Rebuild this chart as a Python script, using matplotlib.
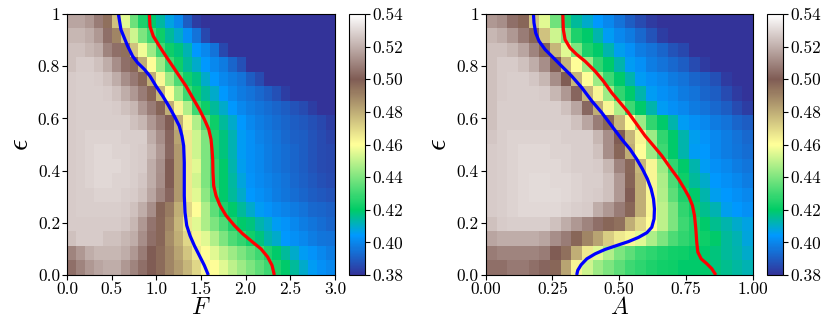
import numpy as np
import matplotlib
matplotlib.use("Agg")
import matplotlib.pyplot as plt

plt.rcParams["font.family"] = "serif"
plt.rcParams["font.serif"] = ["cmr10"]
plt.rcParams["mathtext.fontset"] = "cm"
plt.rcParams["axes.formatter.use_mathtext"] = True

# --- heatmap values (x1000), rows from eps=1 (top) down to eps=0 ---
grid_F = [
    [518, 518, 515, 508, 495, 475, 455, 437, 425, 420, 414, 407, 400, 390, 383, 375, 375, 375, 375, 375, 375, 375, 375, 375, 375, 375, 375, 375, 375, 375],
    [522, 522, 520, 515, 505, 490, 475, 452, 440, 430, 422, 415, 410, 402, 395, 385, 375, 375, 375, 375, 375, 375, 375, 375, 375, 375, 375, 375, 375, 375],
    [525, 525, 522, 520, 510, 505, 495, 475, 458, 445, 430, 422, 418, 412, 404, 400, 395, 385, 375, 375, 375, 375, 375, 375, 375, 375, 375, 375, 375, 375],
    [525, 527, 527, 525, 520, 512, 505, 497, 480, 460, 445, 430, 422, 415, 410, 404, 400, 397, 392, 387, 378, 375, 375, 375, 375, 375, 375, 375, 375, 375],
    [527, 528, 528, 527, 525, 520, 512, 507, 497, 480, 462, 445, 432, 423, 417, 410, 404, 400, 398, 395, 390, 386, 380, 375, 375, 375, 375, 375, 375, 375],
    [527, 528, 528, 528, 527, 525, 520, 515, 508, 497, 478, 460, 445, 430, 422, 415, 410, 404, 400, 397, 395, 393, 390, 387, 383, 378, 376, 375, 375, 375],
    [527, 528, 528, 528, 528, 527, 525, 522, 515, 508, 498, 480, 462, 448, 430, 422, 415, 410, 404, 400, 398, 396, 394, 392, 390, 388, 386, 383, 380, 378],
    [527, 528, 528, 528, 528, 528, 528, 525, 522, 515, 508, 500, 480, 462, 448, 432, 422, 415, 410, 404, 400, 398, 396, 394, 392, 390, 389, 387, 385, 383],
    [527, 528, 529, 529, 529, 529, 528, 528, 528, 520, 512, 502, 482, 465, 452, 440, 425, 418, 412, 405, 402, 399, 397, 395, 393, 391, 390, 388, 386, 384],
    [527, 528, 529, 530, 530, 529, 529, 528, 527, 522, 515, 503, 485, 465, 452, 440, 425, 418, 412, 405, 402, 400, 398, 396, 394, 392, 390, 388, 386, 385],
    [527, 528, 529, 530, 530, 530, 529, 528, 527, 520, 513, 500, 485, 465, 455, 440, 427, 420, 413, 406, 402, 400, 398, 396, 394, 392, 390, 388, 386, 385],
    [527, 528, 529, 530, 530, 529, 529, 528, 526, 520, 512, 500, 485, 465, 453, 440, 427, 420, 414, 408, 403, 401, 399, 397, 395, 393, 391, 389, 387, 386],
    [527, 528, 528, 529, 529, 529, 528, 527, 525, 518, 510, 502, 485, 465, 455, 442, 430, 420, 415, 410, 404, 402, 400, 398, 396, 394, 392, 390, 389, 388],
    [527, 528, 528, 528, 528, 528, 527, 525, 520, 512, 498, 492, 480, 470, 460, 447, 435, 425, 420, 415, 410, 405, 403, 401, 399, 397, 395, 393, 392, 391],
    [527, 527, 527, 527, 527, 527, 526, 522, 515, 506, 497, 490, 478, 465, 455, 447, 440, 432, 425, 420, 418, 413, 410, 405, 403, 400, 398, 396, 394, 392],
    [525, 527, 527, 527, 525, 525, 522, 520, 512, 505, 497, 488, 480, 470, 462, 455, 448, 440, 432, 428, 423, 418, 413, 410, 404, 402, 400, 398, 396, 395],
    [510, 515, 520, 522, 522, 522, 520, 515, 508, 500, 496, 490, 482, 474, 465, 460, 455, 450, 445, 440, 435, 430, 425, 420, 415, 410, 405, 403, 400, 398],
    [505, 510, 515, 518, 520, 520, 515, 510, 505, 500, 496, 490, 484, 478, 470, 462, 460, 455, 450, 445, 440, 435, 430, 425, 420, 415, 410, 405, 402, 400],
]

grid_A = [
    [515, 512, 505, 497, 475, 455, 438, 425, 415, 410, 404, 400, 395, 390, 386, 382, 375, 375, 375, 375, 375, 375, 375, 375, 375],
    [522, 520, 515, 508, 497, 475, 452, 440, 425, 420, 413, 405, 400, 397, 393, 388, 383, 377, 375, 375, 375, 375, 375, 375, 375],
    [525, 525, 522, 518, 510, 497, 478, 455, 440, 425, 420, 413, 406, 402, 398, 395, 392, 388, 385, 380, 376, 375, 375, 375, 375],
    [525, 527, 527, 525, 520, 512, 500, 478, 460, 445, 428, 420, 413, 405, 402, 398, 395, 393, 390, 386, 382, 377, 375, 375, 375],
    [525, 527, 528, 528, 526, 522, 512, 500, 478, 460, 445, 430, 420, 413, 405, 402, 400, 397, 395, 392, 390, 387, 382, 378, 377],
    [525, 527, 528, 528, 528, 527, 522, 515, 502, 478, 462, 445, 428, 420, 413, 405, 402, 400, 397, 395, 392, 390, 386, 382, 380],
    [525, 528, 528, 528, 528, 528, 528, 525, 518, 503, 480, 462, 447, 430, 420, 413, 405, 402, 400, 397, 395, 393, 390, 386, 383],
    [525, 528, 528, 528, 528, 528, 528, 528, 525, 518, 508, 497, 478, 460, 445, 428, 420, 413, 405, 402, 400, 397, 395, 392, 390],
    [526, 528, 529, 529, 529, 529, 529, 528, 528, 528, 522, 512, 500, 478, 462, 445, 428, 420, 413, 406, 403, 400, 398, 395, 393],
    [527, 528, 529, 530, 530, 530, 529, 529, 528, 528, 525, 512, 497, 480, 460, 445, 430, 420, 413, 405, 404, 400, 398, 396, 394],
    [527, 528, 529, 530, 530, 530, 530, 529, 528, 528, 527, 522, 510, 497, 478, 462, 445, 428, 420, 413, 405, 402, 400, 398, 396],
    [527, 528, 529, 530, 531, 531, 530, 530, 529, 528, 528, 525, 515, 498, 480, 462, 447, 432, 422, 415, 410, 404, 402, 400, 398],
    [527, 528, 529, 530, 531, 531, 531, 530, 529, 528, 527, 525, 515, 500, 480, 462, 448, 435, 425, 420, 413, 406, 404, 402, 400],
    [527, 528, 529, 530, 530, 530, 530, 529, 528, 527, 520, 515, 508, 497, 480, 462, 450, 440, 428, 422, 416, 412, 406, 404, 402],
    [525, 527, 528, 528, 528, 528, 525, 520, 515, 510, 505, 497, 495, 480, 470, 460, 450, 440, 430, 425, 420, 416, 413, 410, 407],
    [518, 520, 520, 520, 520, 518, 512, 508, 497, 490, 482, 472, 465, 462, 455, 447, 440, 432, 428, 425, 422, 420, 415, 412, 408],
    [508, 510, 510, 510, 510, 508, 500, 495, 480, 465, 455, 448, 440, 435, 430, 427, 425, 423, 422, 420, 420, 418, 415, 413, 410],
    [505, 505, 507, 507, 505, 502, 497, 482, 463, 452, 445, 440, 435, 430, 427, 425, 423, 422, 420, 420, 420, 418, 416, 414, 412],
]

# --- boundary curves (x, eps) ---
blue_F_x = [0.575, 0.604, 0.679, 0.735, 0.791, 0.866, 0.929, 0.996, 1.071, 1.138, 1.201, 1.257,
            1.287, 1.306, 1.313, 1.313, 1.313, 1.321, 1.340, 1.377, 1.425, 1.481, 1.537, 1.582]
blue_F_y = [1.0, 0.940, 0.877, 0.838, 0.813, 0.788, 0.762, 0.724, 0.686, 0.648, 0.609, 0.571,
            0.533, 0.495, 0.431, 0.368, 0.304, 0.240, 0.190, 0.151, 0.113, 0.075, 0.037, 0.0]
red_F_x = [0.922, 0.929, 0.966, 1.034, 1.108, 1.183, 1.257, 1.332, 1.407, 1.481, 1.537, 1.586, 1.612, 1.623,
           1.631, 1.634, 1.642, 1.668, 1.713, 1.780, 1.873, 1.966, 2.078, 2.172, 2.246, 2.295, 2.321]
red_F_y = [1.0, 0.953, 0.915, 0.877, 0.838, 0.800, 0.762, 0.724, 0.679, 0.635, 0.597, 0.559, 0.520, 0.482,
           0.444, 0.393, 0.342, 0.304, 0.266, 0.228, 0.190, 0.158, 0.126, 0.100, 0.069, 0.037, 0.0]

blue_A_x = [0.179, 0.181, 0.1875, 0.200, 0.2225, 0.254, 0.285, 0.3225, 0.360, 0.3975, 0.435, 0.4725, 0.510, 0.541,
            0.566, 0.5875, 0.606, 0.620, 0.629, 0.6325, 0.631, 0.6225, 0.604, 0.5725, 0.535, 0.491, 0.4475, 0.410,
            0.379, 0.3575, 0.345, 0.341]
blue_A_y = [1.0, 0.966, 0.927, 0.896, 0.864, 0.832, 0.800, 0.762, 0.718, 0.667, 0.622, 0.571, 0.520, 0.482,
            0.444, 0.406, 0.368, 0.330, 0.291, 0.253, 0.215, 0.183, 0.162, 0.144, 0.128, 0.113, 0.098, 0.081,
            0.062, 0.039, 0.018, 0.0]
red_A_x = [0.289, 0.291, 0.2975, 0.316, 0.341, 0.3725, 0.410, 0.441, 0.4725, 0.504, 0.535, 0.566, 0.5975, 0.629,
           0.660, 0.691, 0.7225, 0.745, 0.7625, 0.775, 0.7825, 0.7875, 0.791, 0.795, 0.8075, 0.829, 0.8475, 0.8625]
red_A_y = [1.0, 0.940, 0.902, 0.870, 0.845, 0.819, 0.781, 0.743, 0.698, 0.660, 0.622, 0.578, 0.533, 0.495,
           0.457, 0.412, 0.368, 0.330, 0.298, 0.266, 0.228, 0.177, 0.126, 0.088, 0.062, 0.043, 0.024, 0.0]

F_ticks = [0.0, 0.5, 1.0, 1.5, 2.0, 2.5, 3.0]
A_ticks = [0.0, 0.25, 0.5, 0.75, 1.0]
eps_ticks = [0.0, 0.2, 0.4, 0.6, 0.8, 1.0]
eps_labels = ["0.0", "0.2", "0.4", "0.6", "0.8", "1"]
cbar_ticks = [0.38, 0.40, 0.42, 0.44, 0.46, 0.48, 0.50, 0.52, 0.54]

W, H = 831, 331
fig = plt.figure(figsize=(W / 100, H / 100), dpi=100)


def panel(rect, cbrect, grid, xmax, xticks, xfmt, xlabel, curves):
    ax = fig.add_axes(rect)
    data = np.array(grid) / 1000.0
    im = ax.imshow(data, extent=(0, xmax, 0, 1), aspect="auto", cmap="terrain",
                   vmin=0.38, vmax=0.54, interpolation="nearest")
    for cx, cy, col in curves:
        ax.plot(cx, cy, color=col, lw=2.3, solid_joinstyle="round", solid_capstyle="butt")
    ax.set_xlim(0, xmax)
    ax.set_ylim(0, 1)
    ax.set_xticks(xticks)
    ax.set_xticklabels([xfmt % t for t in xticks])
    ax.set_yticks(eps_ticks)
    ax.set_yticklabels(eps_labels)
    ax.tick_params(labelsize=12.5, length=3.5, width=0.8, pad=1.5)
    ax.set_xlabel(xlabel, fontsize=17, labelpad=0)
    ax.set_ylabel(r"$\epsilon$", fontsize=21, labelpad=3)
    cax = fig.add_axes(cbrect)
    cb = fig.colorbar(im, cax=cax, ticks=cbar_ticks)
    cb.ax.set_yticklabels(["%.2f" % t for t in cbar_ticks])
    cb.ax.tick_params(labelsize=12.5, length=3.5, width=0.8, pad=1.5)
    cb.outline.set_linewidth(0.8)
    return ax


by, bh = 56 / H, 261 / H
panel([67 / W, by, 268 / W, bh], [349 / W, by, 16 / W, bh], grid_F, 3.0,
      F_ticks, "%.1f", r"$F$",
      [(blue_F_x, blue_F_y, "blue"), (red_F_x, red_F_y, "red")])
panel([485.7 / W, by, 266.8 / W, bh], [767.3 / W, by, 16 / W, bh], grid_A, 1.0,
      A_ticks, "%.2f", r"$A$",
      [(blue_A_x, blue_A_y, "blue"), (red_A_x, red_A_y, "red")])

fig.savefig("out.png", dpi=100)
